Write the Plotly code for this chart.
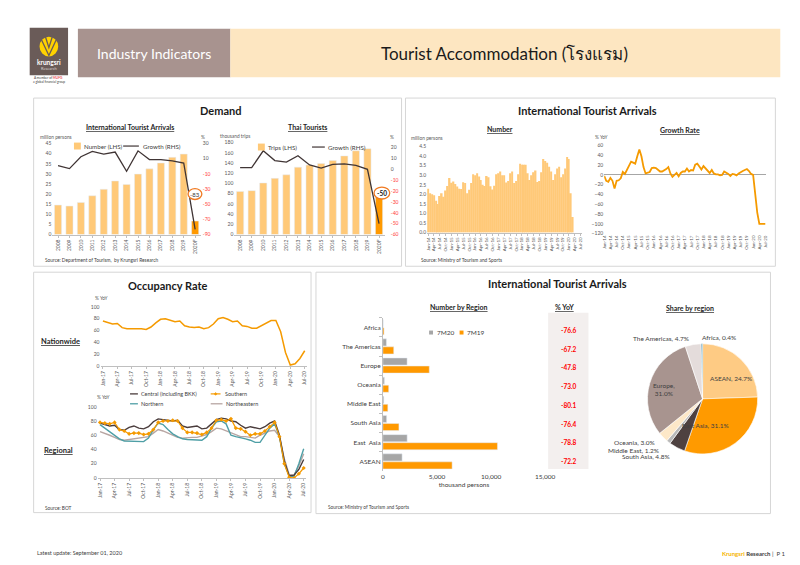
import plotly.graph_objects as go

# ---------------- data ----------------
years = ['2008', '2009', '2010', '2011', '2012', '2013', '2014', '2015', '2016',
         '2017', '2018', '2019', '2020F']
intl_arrivals = [14.6, 14.1, 15.9, 19.2, 22.4, 26.5, 24.8, 29.9, 32.5, 35.4, 38.2, 39.8, 6.7]
intl_growth = [0.8, -3.0, 12.6, 19.8, 16.2, 18.8, -6.5, 20.4, 8.9, 8.8, 7.3, 4.2, -83]
thai_trips = [84.5, 86, 101, 110, 117, 132, 136, 139, 145, 154, 164, 168, 84]
thai_growth = [1.5, 1.5, 17, 8, 6.5, 12.5, 4, 1, 4.5, 5, 3.5, 0, -50]

month_names = ['Jan', 'Feb', 'Mar', 'Apr', 'May', 'Jun', 'Jul', 'Aug', 'Sep', 'Oct', 'Nov', 'Dec']
arrival_months = [f"{m}-{y}" for y in range(14, 21) for m in month_names][:79]
monthly_arrivals = [
    2.30, 2.06, 2.00, 1.96, 1.66, 1.50, 1.92, 2.06, 1.87, 2.20, 2.44, 2.86,
    2.61, 2.67, 2.54, 2.41, 2.30, 2.28, 2.64, 2.60, 2.06, 2.24, 2.60, 3.05,
    3.00, 3.10, 2.94, 2.75, 2.50, 2.44, 2.96, 2.90, 2.42, 2.25, 2.45, 3.05,
    3.10, 3.20, 3.00, 3.00, 2.62, 2.70, 3.10, 3.20, 2.60, 2.70, 3.05, 3.60,
    3.55, 3.55, 3.55, 3.10, 2.75, 3.00, 3.15, 3.25, 2.65, 2.70, 3.15, 3.85,
    3.75, 3.65, 3.45, 3.20, 2.75, 3.05, 3.35, 3.45, 2.90, 3.05, 3.35, 3.95,
    3.85, 2.06, 0.82, 0, 0, 0, 0]
monthly_growth = [
    -2, -12, -14, -6, -12, -28, -12, -11, -7, 6, 2, 10,
    16, 27, 25, 23, 38, 52, 38, 16, 3, 5, 6, 14,
    15, 14, 10, 7, 7, 9, 12, 16, 3, -4, 0, 4,
    -3, 4, 7, 7, 13, 7, 10, 9, 21, 23, 17, 11,
    18, 13, 8, 4, 10, 3, 1, 1, -1, 0, 7, 5,
    2, -2, 2, 1, -1, 3, 6, 8, 10, 12, 8, 2,
    0, -44, -77, -100, -100, -100, -100]

occ_months = [f"{m}-{y}" for y in range(17, 21) for m in month_names][:43]
occ_nationwide = [
    76, 74, 71, 72, 65, 63, 63, 64, 63, 62, 66, 73,
    79, 80, 78, 75, 76, 68, 66, 65, 66, 63, 65, 71,
    80, 82, 79, 75, 76, 68, 67, 64, 64, 68, 72, 77,
    77, 58, 23, 2, 4, 13, 26]
occ_central = [
    77, 75, 73, 74, 68, 67, 71, 73, 70, 69, 72, 79,
    83, 82, 81, 80, 81, 73, 71, 72, 73, 69, 70, 76,
    82, 84, 83, 80, 79, 74, 70, 72, 71, 69, 72, 77,
    80, 60, 24, 3, 4, 12, 26]
occ_southern = [
    78, 77, 76, 78, 68, 66, 62, 63, 63, 61, 62, 68,
    78, 80, 80, 81, 80, 70, 64, 64, 63, 61, 64, 70,
    81, 82, 80, 83, 70, 69, 65, 60, 62, 62, 66, 72,
    78, 58, 20, 1, 0, 6, 14]
occ_northern = [
    75, 70, 65, 60, 55, 52, 52, 52, 51, 51, 56, 68,
    77, 75, 68, 62, 58, 55, 54, 54, 54, 53, 58, 70,
    79, 80, 76, 60, 58, 57, 55, 53, 50, 50, 60, 70,
    76, 58, 20, 3, 2, 20, 41]
occ_northeastern = [
    65, 63, 60, 57, 54, 53, 54, 55, 55, 56, 58, 63,
    68, 66, 63, 60, 57, 56, 57, 57, 57, 59, 61, 65,
    70, 69, 66, 63, 60, 58, 58, 57, 56, 60, 63, 66,
    67, 58, 27, 5, 4, 17, 34]

regions = ['Africa', 'The Americas', 'Europe', 'Oceania', 'Middle East', 'South Asia',
           'East  Asia', 'ASEAN']
arrivals_7m20 = [26, 330, 2240, 146, 92, 350, 2246, 1780]
arrivals_7m19 = [110, 1005, 4290, 540, 460, 1485, 10590, 6400]
region_yoy = ['-76.6', '-67.2', '-47.8', '-73.0', '-80.1', '-76.4', '-78.8', '-72.2']

pie_labels = ['ASEAN', 'East Asia', 'South Asia', 'Middle East', 'Oceania', 'Europe',
              'The Americas', 'Africa']
pie_share = [24.7, 31.1, 4.8, 1.2, 3.0, 31.0, 4.7, 0.4]

# ---------------- style ----------------
W, H = 800, 565
FONT = "Lato, 'Open Sans', sans-serif"
LIGHT_OR = '#ffc978'
DARK_OR = '#ff9900'
LINE_OR = '#f59a00'
DARK = '#403535'
GREY_TXT = '#595959'
TICK = dict(family=FONT, size=5, color=GREY_TXT)


def X(p):
    return p / W


def Y(p):
    return 1 - p / H


def txt(x, y, s, size=7, color='#404040', xanchor='center', yanchor='middle'):
    return dict(x=X(x), y=Y(y), xref='paper', yref='paper', text=s, showarrow=False,
                xanchor=xanchor, yanchor=yanchor, font=dict(family=FONT, size=size, color=color))


def rect(x0, y0, x1, y1, fill, line=None, lw=1, layer='below'):
    return dict(type='rect', xref='paper', yref='paper', x0=X(x0), x1=X(x1), y0=Y(y1), y1=Y(y0),
                fillcolor=fill, line=dict(color=line or fill, width=lw if line else 0), layer=layer)


def hline(x0, x1, y, color, w=1.2):
    return dict(type='line', xref='paper', yref='paper', x0=X(x0), x1=X(x1), y0=Y(y), y1=Y(y),
                line=dict(color=color, width=w))


def red_ticks(vals):
    return [f"<span style='color:#ff3b3b'>{v}</span>" if v < 0 else str(v) for v in vals]


fig = go.Figure()

# ---- Demand: international arrivals ----
fig.add_trace(go.Bar(x=years, y=intl_arrivals, xaxis='x', yaxis='y', width=0.62,
                     marker=dict(color=[LIGHT_OR] * (len(years) - 1) + [DARK_OR]),
                     name='Number (LHS)'))
fig.add_trace(go.Scatter(x=years, y=intl_growth, xaxis='x', yaxis='y2', mode='lines',
                         line=dict(color=DARK, width=1.3), name='Growth (RHS)'))
# ---- Demand: Thai tourists ----
fig.add_trace(go.Bar(x=years, y=thai_trips, xaxis='x2', yaxis='y3', width=0.62,
                     marker=dict(color=[LIGHT_OR] * (len(years) - 1) + [DARK_OR]),
                     name='Trips (LHS)'))
fig.add_trace(go.Scatter(x=years, y=thai_growth, xaxis='x2', yaxis='y4', mode='lines',
                         line=dict(color=DARK, width=1.3), name='Growth (RHS)'))
# ---- monthly arrivals ----
fig.add_trace(go.Bar(x=arrival_months, y=monthly_arrivals, xaxis='x3', yaxis='y5', width=0.8,
                     marker=dict(color=LIGHT_OR, line=dict(width=0)), name='Number'))
fig.add_trace(go.Scatter(x=arrival_months, y=monthly_growth, xaxis='x4', yaxis='y6', mode='lines',
                         line=dict(color=LINE_OR, width=1.8), name='Growth Rate'))
# ---- occupancy ----
fig.add_trace(go.Scatter(x=occ_months, y=occ_nationwide, xaxis='x5', yaxis='y7', mode='lines',
                         line=dict(color=LINE_OR, width=1.5), name='Nationwide'))
fig.add_trace(go.Scatter(x=occ_months, y=occ_northeastern, xaxis='x6', yaxis='y8', mode='lines',
                         line=dict(color='#b8a6a3', width=1.4), name='Northeastern'))
fig.add_trace(go.Scatter(x=occ_months, y=occ_northern, xaxis='x6', yaxis='y8', mode='lines',
                         line=dict(color='#4f9fa6', width=1.4), name='Northern'))
fig.add_trace(go.Scatter(x=occ_months, y=occ_central, xaxis='x6', yaxis='y8', mode='lines',
                         line=dict(color='#4a3c3c', width=1.4), name='Central (including BKK)'))
fig.add_trace(go.Scatter(x=occ_months, y=occ_southern, xaxis='x6', yaxis='y8', mode='lines+markers',
                         line=dict(color=LINE_OR, width=1.2),
                         marker=dict(symbol='diamond', size=3.2, color=LINE_OR), name='Southern'))
# ---- by region ----
fig.add_trace(go.Bar(y=regions, x=arrivals_7m20, orientation='h', xaxis='x7', yaxis='y9',
                     width=0.37, offset=-0.4, marker=dict(color='#a6a6a6'), name='7M20'))
fig.add_trace(go.Bar(y=regions, x=arrivals_7m19, orientation='h', xaxis='x7', yaxis='y9',
                     width=0.37, offset=0.02, marker=dict(color=DARK_OR), name='7M19'))
# ---- pie ----
pie_colors = ['#fecb84', '#ff9a00', '#4e4140', '#b9b9b9', '#fde8c8', '#a8948f', '#e4dcdb', '#1f7896']
fig.add_trace(go.Pie(labels=pie_labels, values=pie_share, sort=False, direction='clockwise',
                     rotation=0, textinfo='none', hoverinfo='label+percent',
                     marker=dict(colors=pie_colors, line=dict(color='white', width=0.6)),
                     domain=dict(x=[X(647), X(759)], y=[Y(448), Y(336)])))

cat_x = dict(type='category', showgrid=False, zeroline=False, tickfont=TICK, tickangle=-90,
             showline=True, linecolor='#bfbfbf', linewidth=0.8, ticks='outside', ticklen=2,
             tickcolor='#bfbfbf', fixedrange=True)
num_y = dict(showgrid=False, zeroline=False, tickfont=TICK, ticks='', showline=False)

yr_ticks = [-90, -70, -50, -30, -10, 10, 30]
th_ticks = [-60, -50, -40, -30, -20, -10, 0, 10, 20]

fig.update_layout(
    width=W, height=H, margin=dict(l=0, r=0, t=0, b=0), showlegend=False,
    paper_bgcolor='white', plot_bgcolor='rgba(0,0,0,0)', barmode='overlay',
    font=dict(family=FONT, color='#404040'),
    xaxis=dict(cat_x, domain=[X(42), X(193)], anchor='y', range=[-0.5, 12.5]),
    yaxis=dict(num_y, domain=[Y(226), Y(134)], anchor='x', range=[0, 45], dtick=5),
    yaxis2=dict(num_y, overlaying='y', side='right', anchor='x', range=[-90, 30],
                tickvals=yr_ticks, ticktext=red_ticks(yr_ticks), ticklabelstandoff=1),
    xaxis2=dict(cat_x, domain=[X(227), X(380)], anchor='y3', range=[-0.5, 12.5]),
    yaxis3=dict(num_y, domain=[Y(226), Y(133)], anchor='x2', range=[0, 180], dtick=20),
    yaxis4=dict(num_y, overlaying='y3', side='right', anchor='x2', range=[-60, 24.5],
                tickvals=th_ticks, ticktext=red_ticks(th_ticks), ticklabelstandoff=5),
    xaxis3=dict(cat_x, domain=[X(423), X(580)], anchor='y5', range=[-0.5, 78.5],
                tickvals=arrival_months[::3], tickfont=dict(TICK, size=4.5)),
    yaxis5=dict(num_y, domain=[Y(224), Y(137)], anchor='x3', range=[0, 4.5], dtick=0.5,
                tickformat='.1f'),
    xaxis4=dict(cat_x, domain=[X(603), X(767)], anchor='y6', range=[0, 78], showline=False,
                ticks='', tickvals=arrival_months[::3], tickfont=dict(TICK, size=4.5)),
    yaxis6=dict(num_y, domain=[Y(225), Y(136)], anchor='x4', range=[-120, 60], dtick=20,
                zeroline=True, zerolinecolor='#a6a6a6', zerolinewidth=0.8),
    xaxis5=dict(cat_x, domain=[X(91), X(301)], anchor='y7', range=[-0.5, 42.5],
                tickvals=occ_months[::3]),
    yaxis7=dict(num_y, domain=[Y(359), Y(299)], anchor='x5', range=[0, 100], dtick=20),
    xaxis6=dict(cat_x, domain=[X(88), X(300)], anchor='y8', range=[-0.5, 42.5],
                tickvals=occ_months[::3]),
    yaxis8=dict(num_y, domain=[Y(472), Y(400)], anchor='x6', range=[0, 100], dtick=20),
    xaxis7=dict(showgrid=False, zeroline=False, domain=[X(378), X(543)], anchor='y9',
                range=[0, 15000], tickvals=[0, 5000, 10000, 15000], tickformat=',',
                tickfont=dict(family=FONT, size=6.5, color='#404040'), showline=False,
                title=dict(text='thousand persons', standoff=3,
                           font=dict(family=FONT, size=6.5, color='#404040'))),
    yaxis9=dict(type='category', domain=[Y(465), Y(310)], anchor='x7', autorange='reversed',
                showgrid=False, zeroline=False, showline=True, linecolor='#bfbfbf', linewidth=0.8,
                ticks='outside', ticklen=3, tickcolor='#bfbfbf', tickson='boundaries',
                tickfont=dict(family=FONT, size=6.5, color='#404040')),
)

shapes = []
ann = []

# ---- header ----
shapes.append(rect(19, 17, 58, 65, '#6a5b58'))
shapes.append(dict(type='circle', xref='paper', yref='paper', x0=X(29), x1=X(48), y0=Y(46), y1=Y(26),
                   fillcolor='#ffd200', line=dict(width=0)))
shapes.append(dict(type='path', xref='paper', yref='paper',
                   path=f"M {X(31)},{Y(29)} L {X(38.5)},{Y(45)} L {X(46)},{Y(29)}",
                   line=dict(color='#6a5b58', width=1.3)))
shapes.append(dict(type='path', xref='paper', yref='paper',
                   path=f"M {X(35)},{Y(26)} L {X(38.5)},{Y(37)} L {X(42)},{Y(26)}",
                   line=dict(color='#6a5b58', width=1.3)))
ann.append(txt(38.5, 52, '<b>krungsri</b>', 6.5, 'white'))
ann.append(txt(38.5, 58, 'Research', 4, '#d9d0ce'))
ann.append(txt(38.5, 68, 'A member of <span style="color:#e60012">MUFG</span>', 3.2, '#404040'))
ann.append(txt(38.5, 71.5, 'a global financial group', 3.2, '#404040'))
shapes.append(rect(68, 18, 223, 67, '#a8938f'))
ann.append(txt(145.5, 43, 'Industry Indicators', 14, 'white'))
shapes.append(rect(223, 18, 782, 67, '#fde6c1'))
ann.append(txt(502, 43, 'Tourist Accommodation (โรงแรม)', 17, '#1a1a1a'))

# ---- panels ----
for x0, y0, x1, y1 in [(23, 88, 397, 258), (401, 88, 777, 258), (23, 264, 305, 507), (310, 264, 772, 508)]:
    shapes.append(rect(x0, y0, x1, y1, 'white', '#d6d6d6', 1))

ann.append(txt(213, 101, '<b>Demand</b>', 11, '#1a1a1a'))
ann.append(txt(586, 101, '<b>International Tourist Arrivals</b>', 11, '#1a1a1a'))
ann.append(txt(160, 277, '<b>Occupancy Rate</b>', 11, '#1a1a1a'))
ann.append(txt(556, 275, '<b>International Tourist Arrivals</b>', 11, '#1a1a1a'))

# subtitles
for x, y, s in [(121, 117, 'International Tourist Arrivals'), (301, 117, 'Thai Tourists'),
                (497, 119, 'Number'), (680, 120, 'Growth Rate'), (455, 299, 'Number by Region'),
                (563, 299, '% YoY'), (690, 300, 'Share by region')]:
    ann.append(txt(x, y, f'<b><u>{s}</u></b>', 7, '#262626'))

# unit labels
for x, y, s in [(27, 127, 'million persons'), (191, 127, '%'), (210, 126, 'thousand trips'),
                (383, 127, '%'), (405, 128, 'million persons'), (592, 127, '% YoY'),
                (83, 290, '% YoY'), (85, 390, '% YoY')]:
    ann.append(txt(x, y, s, 4.8, GREY_TXT, xanchor='left'))

# sources
for x, y, s in [(33, 252, 'Source: Department of Tourism,  by Krungsri Research'),
                (415, 252, 'Source: Ministry of Tourism and Sports'),
                (33, 502, 'Source: BOT'),
                (320, 501, 'Source: Ministry of Tourism and Sports')]:
    ann.append(txt(x, y, s, 4.8, '#404040', xanchor='left'))

# legends (demand)
shapes.append(rect(64, 133, 71, 140, LIGHT_OR, layer='above'))
ann.append(txt(72, 136.5, 'Number (LHS)', 6.2, '#404040', xanchor='left'))
shapes.append(hline(114, 130, 136.5, DARK, 1.2))
ann.append(txt(132, 136.5, 'Growth (RHS)', 6.2, '#404040', xanchor='left'))
shapes.append(rect(251, 134, 258, 141, LIGHT_OR, layer='above'))
ann.append(txt(259, 137.5, 'Trips (LHS)', 6.2, '#404040', xanchor='left'))
shapes.append(hline(306, 319, 137.5, DARK, 1.2))
ann.append(txt(320, 137.5, 'Growth (RHS)', 6.2, '#404040', xanchor='left'))

# highlight circles
shapes.append(dict(type='circle', xref='paper', yref='paper', x0=X(180), x1=X(194), y0=Y(190.5),
                   y1=Y(179.5), fillcolor='white', line=dict(color='#f07a22', width=1.3), layer='above'))
ann.append(txt(187, 185, f'{intl_growth[-1]}', 6, '#404040'))
shapes.append(dict(type='circle', xref='paper', yref='paper', x0=X(369), x1=X(385), y0=Y(190),
                   y1=Y(178), fillcolor='white', line=dict(color='#f07a22', width=1.3), layer='above'))
ann.append(txt(377, 184, f'<b>{thai_growth[-1]}</b>', 6.5, '#1a1a1a'))

# occupancy labels & legend
ann.append(txt(50, 334, '<b><u>Nationwide</u></b>', 7.5, '#262626'))
ann.append(txt(48, 444, '<b><u>Regional</u></b>', 7.5, '#262626'))
shapes.append(hline(121, 129, 387, '#4a3c3c', 1.3))
ann.append(txt(130, 387, 'Central (including BKK)', 5.5, '#404040', xanchor='left'))
shapes.append(hline(203, 213, 387, LINE_OR, 1.2))
shapes.append(dict(type='path', xref='paper', yref='paper', layer='above',
                   path=f"M {X(208)},{Y(385.5)} L {X(209.5)},{Y(387)} L {X(208)},{Y(388.5)} L {X(206.5)},{Y(387)} Z",
                   fillcolor=LINE_OR, line=dict(color=LINE_OR, width=0.5)))
ann.append(txt(215, 387, 'Southern', 5.5, '#404040', xanchor='left'))
shapes.append(hline(121, 129, 397, '#4f9fa6', 1.3))
ann.append(txt(130, 397, 'Northern', 5.5, '#404040', xanchor='left'))
shapes.append(hline(203, 215, 397, '#b8a6a3', 1.3))
ann.append(txt(217, 397, 'Northeastern', 5.5, '#404040', xanchor='left'))

# region bar legend
shapes.append(rect(425, 323, 429, 327, '#a6a6a6', layer='above'))
ann.append(txt(431, 325, '7M20', 6.5, '#404040', xanchor='left'))
shapes.append(rect(456, 323, 460, 327, DARK_OR, layer='above'))
ann.append(txt(462, 325, '7M19', 6.5, '#404040', xanchor='left'))

# % YoY column
shapes.append(rect(546, 305, 587, 463, '#f3efee'))
for i, v in enumerate(region_yoy):
    ann.append(txt(567, 323 + i * 18.9, f'<b>{v}</b>', 6.5, '#ff0000'))

# pie labels
pie_pos = [(732, 371), (706, 419), (645, 450), (633, 444), (634, 436), (664, 383), (661, 331), (720, 330)]
for (x, y), lab, sh in zip(pie_pos, pie_labels, pie_share):
    s = f'{lab},<br>{sh}%' if lab == 'Europe' else f'{lab}, {sh}%'
    ann.append(txt(x, y, s, 6.5, '#404040'))

# footer
ann.append(txt(24, 548, 'Latest update: September 01, 2020', 5.5, '#404040', xanchor='left'))
ann.append(txt(790, 548, '<span style="color:#f5b400"><b>Krungsri</b></span> <b>Research</b> |  P 1',
               6, '#404040', xanchor='right'))

fig.update_layout(shapes=shapes, annotations=ann)
fig.write_html('out.html')
